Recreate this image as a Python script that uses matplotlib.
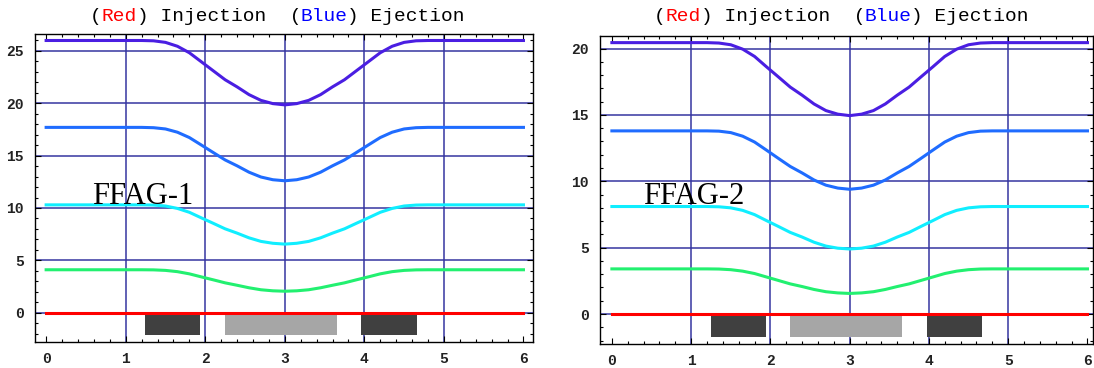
#!/usr/bin/env python
# coding: utf-8

import numpy as np
import matplotlib
matplotlib.use('Agg')
import matplotlib.pyplot as plt
from matplotlib import ticker
from matplotlib import transforms

#############################################
# data
# sampling positions along the lattice cell
x_pos = [0, 1.2, 1.35, 1.5, 1.65, 1.8, 1.95, 2.1, 2.25, 2.4, 2.55, 2.7, 2.85, 3.0,
         3.15, 3.3, 3.45, 3.6, 3.75, 3.9, 4.05, 4.2, 4.35, 4.5, 4.65, 4.8, 6]

# FFAG-1 (left panel)
ffag1_c1 = [26.0, 26.0, 25.97, 25.82, 25.45, 24.83, 23.97, 23.11, 22.25, 21.57, 20.83, 20.28, 19.97, 19.85,
            19.97, 20.28, 20.83, 21.57, 22.25, 23.11, 23.97, 24.83, 25.45, 25.82, 25.97, 26.0, 26.0]
ffag1_c2 = [17.7, 17.7, 17.67, 17.55, 17.24, 16.73, 16.02, 15.3, 14.59, 14.03, 13.42, 12.96, 12.7, 12.6,
            12.7, 12.96, 13.42, 14.03, 14.59, 15.3, 16.02, 16.73, 17.24, 17.55, 17.67, 17.7, 17.7]
ffag1_c3 = [10.3, 10.3, 10.28, 10.19, 9.96, 9.59, 9.06, 8.54, 8.01, 7.6, 7.15, 6.81, 6.63, 6.55,
            6.63, 6.81, 7.15, 7.6, 8.01, 8.54, 9.06, 9.59, 9.96, 10.19, 10.28, 10.3, 10.3]
ffag1_c4 = [4.1, 4.1, 4.09, 4.04, 3.92, 3.71, 3.42, 3.14, 2.85, 2.62, 2.38, 2.19, 2.09, 2.05,
            2.09, 2.19, 2.38, 2.62, 2.85, 3.14, 3.42, 3.71, 3.92, 4.04, 4.09, 4.1, 4.1]

# FFAG-2 (right panel)
ffag2_c1 = [20.45, 20.45, 20.42, 20.29, 19.96, 19.41, 18.63, 17.87, 17.1, 16.49, 15.83, 15.33, 15.06, 14.95,
            15.06, 15.33, 15.83, 16.49, 17.1, 17.87, 18.63, 19.41, 19.96, 20.29, 20.42, 20.45, 20.45]
ffag2_c2 = [13.8, 13.8, 13.78, 13.67, 13.4, 12.96, 12.35, 11.73, 11.12, 10.63, 10.1, 9.71, 9.49, 9.4,
            9.49, 9.71, 10.1, 10.63, 11.12, 11.73, 12.35, 12.96, 13.4, 13.67, 13.78, 13.8, 13.8]
ffag2_c3 = [8.1, 8.1, 8.08, 8.0, 7.81, 7.49, 7.04, 6.6, 6.15, 5.8, 5.41, 5.12, 4.96, 4.9,
            4.96, 5.12, 5.41, 5.8, 6.15, 6.6, 7.04, 7.49, 7.81, 8.0, 8.08, 8.1, 8.1]
ffag2_c4 = [3.4, 3.4, 3.39, 3.34, 3.23, 3.05, 2.79, 2.53, 2.27, 2.07, 1.85, 1.68, 1.59, 1.55,
            1.59, 1.68, 1.85, 2.07, 2.27, 2.53, 2.79, 3.05, 3.23, 3.34, 3.39, 3.4, 3.4]

# injection orbit (red)
inj_x = [0, 6]
inj_y = [0, 0]

# magnets: (start, end) along x
ffag1_magnets = [(1.24, 1.94), (2.25, 3.66), (3.96, 4.66)]
ffag2_magnets = [(1.25, 1.95), (2.25, 3.66), (3.97, 4.67)]
magnet_kind = ['dark', 'light', 'dark']
ffag1_magnet_depth = 2.1
ffag2_magnet_depth = 1.72

ffag1_yticks = [0, 5, 10, 15, 20, 25]
ffag2_yticks = [0, 5, 10, 15, 20]
xticks = [0, 1, 2, 3, 4, 5, 6]
xgrid = [1, 2, 3, 4, 5]

# title pieces
title_parts = ['(', 'Red', ') Injection  (', 'Blue', ') Ejection']
title_colors = ['black', '#ff0000', 'black', '#0000ff', 'black']

#############################################
curve_colors = ['#4a1ee2', '#1f6cff', '#10eeff', '#22f070']
magnet_colors = {'dark': '#404040', 'light': '#a6a6a6'}
grid_color = '#3535a0'

fig = plt.figure(figsize=(10.94, 3.68), dpi=100)

panels = [
    dict(rect=[35/1094, 26/368, 498/1094, 308/368],
         curves=[ffag1_c1, ffag1_c2, ffag1_c3, ffag1_c4],
         magnets=ffag1_magnets, depth=ffag1_magnet_depth,
         yticks=ffag1_yticks, xlim=(-0.14, 6.12), ylim=(-2.8, 26.62),
         label='FFAG-1', label_xy=(0.575, 10.35), title_x=90),
    dict(rect=[600/1094, 24/368, 493/1094, 308/368],
         curves=[ffag2_c1, ffag2_c2, ffag2_c3, ffag2_c4],
         magnets=ffag2_magnets, depth=ffag2_magnet_depth,
         yticks=ffag2_yticks, xlim=(-0.15, 6.07), ylim=(-2.26, 20.95),
         label='FFAG-2', label_xy=(0.39, 8.3), title_x=654),
]

fs = 14.0
char_w = 0.6 * fs * 100 / 72.0   # monospace advance in pixels
base = transforms.blended_transform_factory(fig.transFigure, fig.transFigure)

for p in panels:
    ax = fig.add_axes(p['rect'])
    ax.set_xlim(p['xlim'])
    ax.set_ylim(p['ylim'])

    # grid lines
    for g in xgrid:
        ax.axvline(g, color=grid_color, linewidth=1.1, zorder=1)
    for g in p['yticks']:
        ax.axhline(g, color=grid_color, linewidth=1.1, zorder=1)

    # magnets below the injection orbit
    for (x0, x1), kind in zip(p['magnets'], magnet_kind):
        ax.bar(x0, -p['depth'], width=x1 - x0, bottom=0, align='edge',
               color=magnet_colors[kind], linewidth=0, zorder=2)

    # orbits
    ax.plot(inj_x, inj_y, color='#ff0000', linewidth=2.2, zorder=4)
    for yv, c in zip(p['curves'], curve_colors):
        ax.plot(x_pos, yv, color=c, linewidth=2.2, zorder=3,
                solid_joinstyle='round')

    # label
    ax.text(p['label_xy'][0], p['label_xy'][1], p['label'],
            family='Liberation Serif', fontsize=22, color='black',
            ha='left', va='baseline', zorder=5)

    # ticks: inward on all four sides, Mathematica frame style
    ax.set_xticks(xticks)
    ax.set_yticks(p['yticks'])
    ax.xaxis.set_minor_locator(ticker.MultipleLocator(0.2))
    ax.yaxis.set_minor_locator(ticker.MultipleLocator(1))
    ax.tick_params(which='both', direction='in', top=True, right=True,
                   labeltop=False, labelright=False, color='black', width=0.8)
    ax.tick_params(which='major', length=4.5)
    ax.tick_params(which='minor', length=2.5)
    ax.tick_params(axis='x', which='major', pad=7)
    ax.tick_params(axis='y', which='major', pad=8)
    for lab in ax.get_xticklabels() + ax.get_yticklabels():
        lab.set_family('Liberation Mono')
        lab.set_fontsize(10.5)
        lab.set_fontweight('bold')
        lab.set_color('#222222')
    for s in ax.spines.values():
        s.set_linewidth(1.0)
        s.set_color('black')

    # title "(Red) Injection  (Blue) Ejection", word by word
    n = 0
    for part, col in zip(title_parts, title_colors):
        tr = transforms.offset_copy(base, fig=fig, x=p['title_x'] + n * char_w,
                                    y=0, units='dots')
        fig.text(0, 1 - 21.3/368, part, transform=tr,
                 family='Liberation Mono', fontsize=fs, color=col,
                 ha='left', va='baseline')
        n += len(part)

fig.savefig('out.png', dpi=100)
plt.close(fig)
